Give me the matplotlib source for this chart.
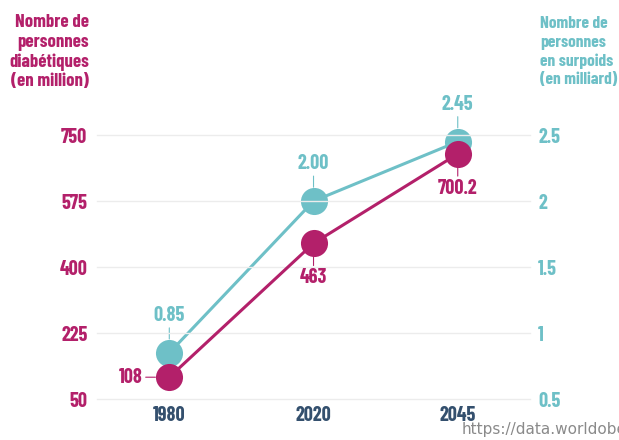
import matplotlib.pyplot as plt

# diabetes (millions, left axis) and overweight (billions, right axis)
years = ['1980', '2020', '2045']
diabetes = [108, 463, 700.2]
overweight = [0.85, 2.00, 2.45]
diabetes_labels = ['108', '463', '700.2']
overweight_labels = ['0.85', '2.00', '2.45']
left_ticks = [50, 225, 400, 575, 750]
right_ticks = [0.5, 1, 1.5, 2, 2.5]
right_ticklabels = ['0.5', '1', '1.5', '2', '2.5']

pink = '#B3206A'
teal = '#6EC0C7'
navy = '#34506E'
plt.rcParams['font.family'] = ['Barlow Condensed', 'DejaVu Sans']
fw = 700
fs = 14.5

fig = plt.figure(figsize=(6.19, 4.4), dpi=100)
ax = fig.add_axes([0.157, 0.093, 0.699, 0.6])
ax2 = ax.twinx()

x = list(range(len(years)))
ax.set_xlim(-0.5, 2.5)
ax.set_ylim(50, 750)
ax2.set_ylim(0.5, 2.5)

for a in (ax, ax2):
    for s in a.spines.values():
        s.set_visible(False)
    a.tick_params(length=0)

ax.set_yticks(left_ticks)
ax.set_yticklabels([str(t) for t in left_ticks], color=pink, fontsize=fs, fontweight=fw)
ax.tick_params(axis='y', pad=7)
ax2.set_yticks(right_ticks)
ax2.set_yticklabels(right_ticklabels, color=teal, fontsize=fs, fontweight=fw)
ax2.tick_params(axis='y', pad=6)
ax.set_xticks(x)
ax.set_xticklabels(years, color=navy, fontsize=fs, fontweight=fw)
ax.tick_params(axis='x', pad=5)

for t in left_ticks:
    ax.axhline(t, color='#ECECEC', lw=1, zorder=0, clip_on=False)

ax2.plot(x, overweight, color=teal, lw=2.2, marker='o', ms=19.5, mec='none', clip_on=False, zorder=3)
ax.plot(x, diabetes, color=pink, lw=2.2, marker='o', ms=19.5, mec='none', clip_on=False, zorder=3)
ax.set_zorder(ax2.get_zorder() + 1)
ax.patch.set_visible(False)

# value labels with short connector ticks
for xi, v, lab in zip(x, overweight, overweight_labels):
    ax2.annotate(lab, xy=(xi, v), xytext=(0, 20), textcoords='offset points',
                 ha='center', va='bottom', color=teal, fontsize=fs, fontweight=fw,
                 arrowprops=dict(arrowstyle='-', color=teal, lw=0.8, shrinkA=0, shrinkB=10))
for i, (xi, v, lab) in enumerate(zip(x, diabetes, diabetes_labels)):
    if i == 0:
        off, ha, va = (-19, 0), 'right', 'center'
    else:
        off, ha, va = (0, -18), 'center', 'top'
    ax.annotate(lab, xy=(xi, v), xytext=off, textcoords='offset points',
                ha=ha, va=va, color=pink, fontsize=fs, fontweight=fw,
                arrowprops=dict(arrowstyle='-', color=pink, lw=0.8, shrinkA=0, shrinkB=10))

fig.text(89 / 619, 1 - 14 / 440, 'Nombre de\npersonnes\ndiabétiques\n(en million)',
         ha='right', va='top', color=pink, fontsize=13.5, fontweight=fw, linespacing=1.2)
fig.text(540 / 619, 1 - 16 / 440, 'Nombre de\npersonnes\nen surpoids\n(en milliard)',
         ha='left', va='top', color=teal, fontsize=12.5, fontweight=fw, linespacing=1.3)
fig.text(462 / 619, 1 - 422 / 440, 'https://data.worldobesity.org', ha='left', va='top',
         color='#8A8A8A', fontsize=11, family='DejaVu Sans')

fig.savefig('out.png', dpi=100)
